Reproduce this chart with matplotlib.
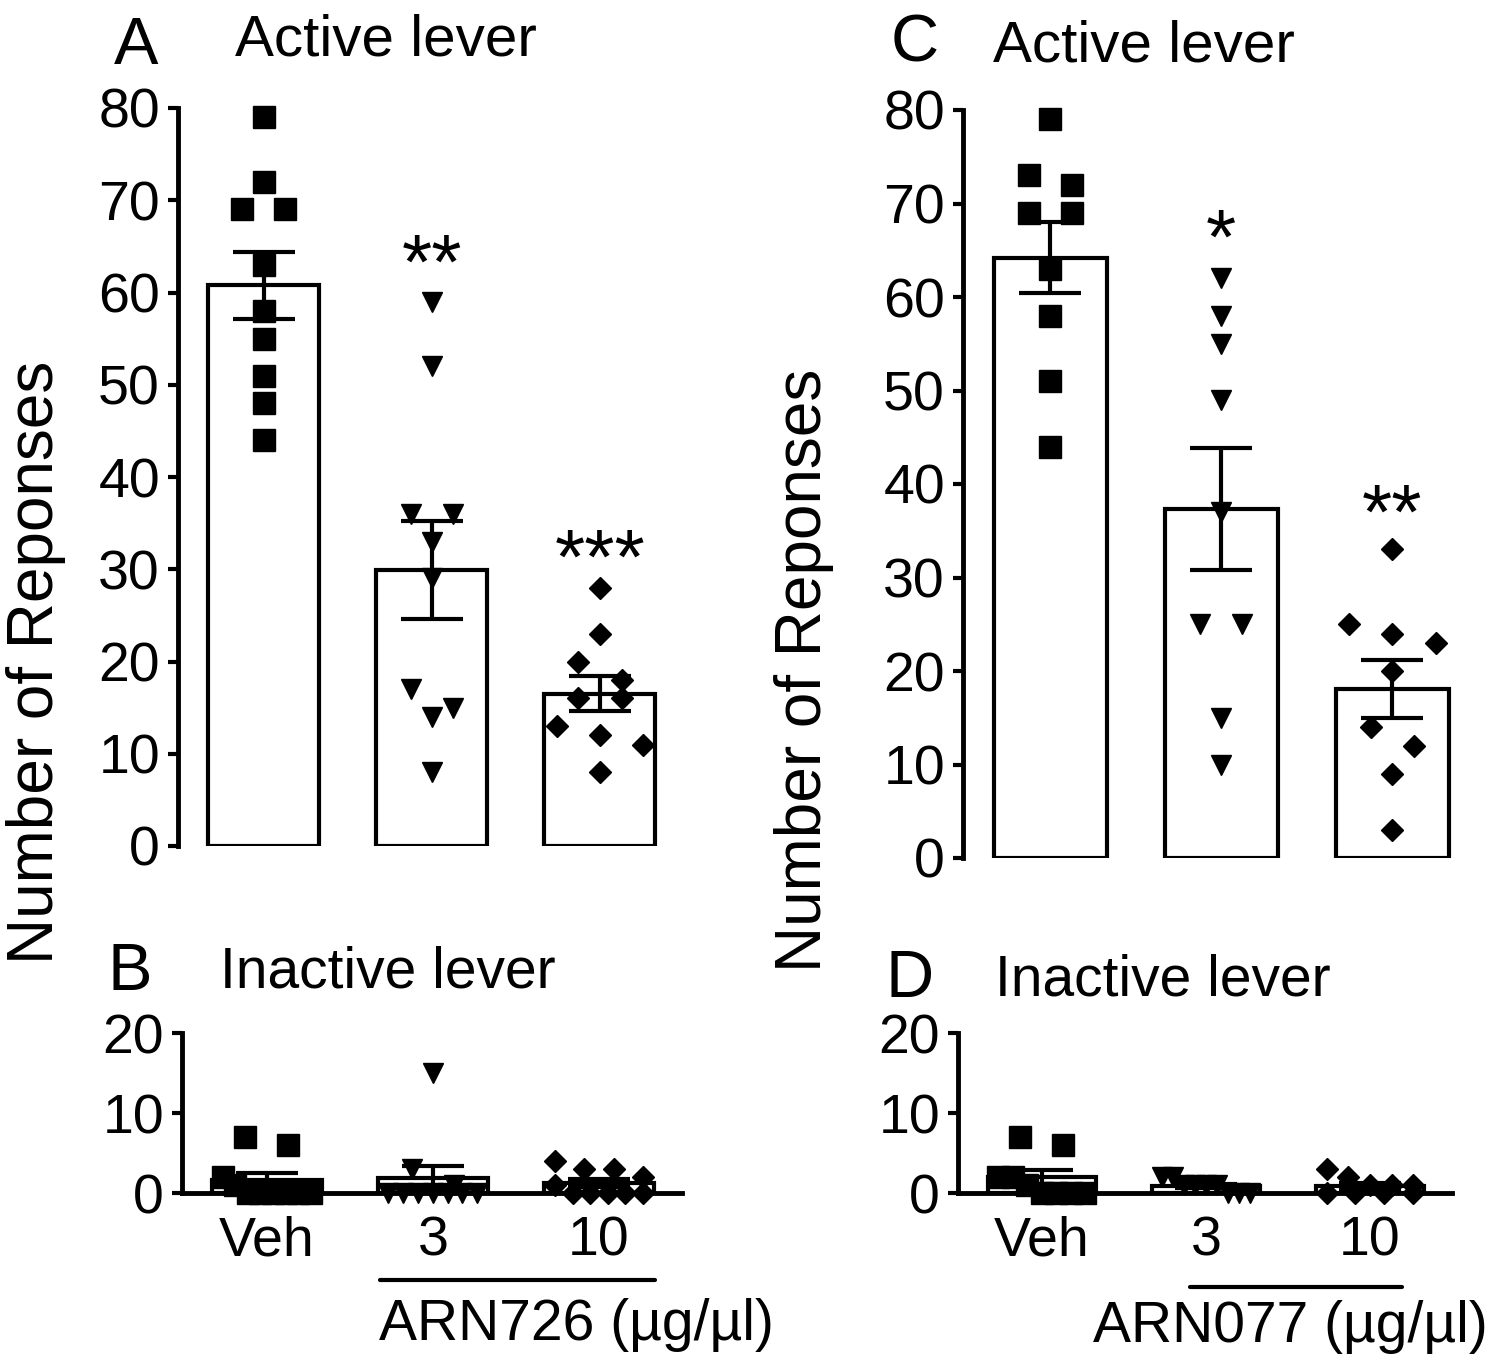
import numpy as np
import matplotlib
matplotlib.use("Agg")
import matplotlib.pyplot as plt
from matplotlib.lines import Line2D

plt.rcParams['font.family'] = ['Liberation Sans', 'DejaVu Sans']

# groups and individual responses
groups = ['Veh', '3', '10']
markers = ['s', 'v', 'D']
marker_sizes = [15.5, 15, 11]

# ARN726 - active / inactive lever
arn726_active = [
    [79, 72, 69, 69, 63, 58, 55, 51, 48, 44],
    [59, 52, 36, 36, 33, 29, 17, 15, 14, 8],
    [28, 23, 20, 18, 16, 16, 13, 12, 11, 8],
]
arn726_inactive = [
    [7, 6, 2, 1, 0, 0, 0, 0, 0, 0],
    [15, 3, 1, 0, 0, 0, 0, 0, 0, 0],
    [4, 3, 3, 2, 1, 0, 0, 0, 0, 0],
]
arn726_stars = ['', '**', '***']

# ARN077 - active / inactive lever
arn077_active = [
    [79, 73, 72, 69, 69, 63, 58, 51, 44],
    [62, 58, 55, 49, 37, 25, 25, 15, 10],
    [33, 25, 24, 23, 20, 14, 12, 9, 3],
]
arn077_inactive = [
    [7, 6, 2, 2, 1, 0, 0, 0, 0],
    [2, 2, 1, 1, 1, 1, 0, 0, 0],
    [3, 2, 1, 1, 1, 0, 0, 0, 0],
]
arn077_stars = ['', '*', '**']

W, H = 1500, 1369
fig = plt.figure(figsize=(W / 100, H / 100), dpi=100)


def fbox(left, right, y0, y1):
    """axes rectangle from pixel coords (y0 = bottom pixel, y1 = top pixel)"""
    return [left / W, 1 - y0 / H, (right - left) / W, (y0 - y1) / H]


def scatter_rows(values, y_ppu, x_ppu, size_px, bar_px):
    """Prism-like column scatter: close values go in a centred row"""
    values = np.asarray(values, dtype=float)
    order = np.argsort(-values, kind='stable')
    rows, row = [], [order[0]]
    for i in order[1:]:
        if (values[row[0]] - values[i]) * y_ppu < size_px:
            row.append(i)
        else:
            rows.append(row)
            row = [i]
    rows.append(row)
    offs = np.zeros(len(values))
    for row in rows:
        k = len(row)
        if k == 1:
            continue
        step = min(2 * size_px, (bar_px - size_px) / (k - 1))
        for j, i in enumerate(row):
            offs[i] = (j - (k - 1) / 2) * step / x_ppu
    return offs


def panel(ax, data, ymax, ticks, ppx, ppy, bottom_axis, stars=None,
          star_y=None, barw=0.66):
    for i, vals in enumerate(data):
        vals = np.asarray(vals, dtype=float)
        mean = vals.mean()
        sem = vals.std(ddof=1) / np.sqrt(len(vals))
        ax.bar(i, mean, width=barw, facecolor='white', edgecolor='black',
               linewidth=3, zorder=1)
        size_px = marker_sizes[i] * 100 / 72 * (1.41 if markers[i] == 'D' else 1.0)
        offs = scatter_rows(vals, ppy, ppx, size_px, barw * ppx)
        ax.plot(i + offs, vals, linestyle='none', marker=markers[i],
                markersize=marker_sizes[i], color='black', clip_on=False,
                zorder=2)
        ax.errorbar(i, mean, yerr=sem, fmt='none', ecolor='black',
                    elinewidth=3, capsize=22, capthick=3, zorder=3,
                    clip_on=False)
        if stars and stars[i]:
            ax.text(i, star_y[i], stars[i], ha='center', va='baseline',
                    fontsize=56)
    ax.set_xlim(-0.51, 2.5)
    ax.set_ylim(0, ymax)
    ax.set_yticks(ticks)
    ax.tick_params(axis='y', labelsize=40, length=7, width=3, pad=6)
    for s in ['top', 'right']:
        ax.spines[s].set_visible(False)
    ax.spines['left'].set_linewidth(3.5)
    if bottom_axis:
        ax.spines['bottom'].set_linewidth(3.5)
        ax.set_xticks(range(len(groups)))
        ax.set_xticklabels(groups)
        ax.tick_params(axis='x', labelsize=40, length=0, pad=16)
    else:
        ax.spines['bottom'].set_visible(False)
        ax.set_xticks([])


# panel A
ax_a = fig.add_axes(fbox(178, 684, 846, 108))
panel(ax_a, arn726_active, 80, range(0, 81, 10), 168, 738 / 80, False,
      arn726_stars, [0, 60.4, 28.4])
# panel B
ax_b = fig.add_axes(fbox(182, 682, 1193, 1033))
panel(ax_b, arn726_inactive, 20, [0, 10, 20], 166, 8, True)
# panel C
ax_c = fig.add_axes(fbox(963, 1478, 858, 110))
panel(ax_c, arn077_active, 80, range(0, 81, 10), 170.5, 748 / 80, False,
      arn077_stars, [0, 63.6, 34.2])
# panel D
ax_d = fig.add_axes(fbox(958, 1452, 1193, 1033))
panel(ax_d, arn077_inactive, 20, [0, 10, 20], 164.5, 8, True)


def ftext(x, y, s, size, ha='left', **kw):
    fig.text(x / W, 1 - y / H, s, fontsize=size, ha=ha, va='baseline', **kw)


# panel letters and titles
ftext(136, 64, 'A', 48, ha='center')
ftext(235, 56, 'Active lever', 42)
ftext(130, 990, 'B', 48, ha='center')
ftext(220, 988, 'Inactive lever', 41)
ftext(915, 62, 'C', 48, ha='center')
ftext(993, 61, 'Active lever', 42)
ftext(910, 997, 'D', 48, ha='center')
ftext(995, 995, 'Inactive lever', 41)

# y labels
fig.text(36 / W, 1 - 662 / H, 'Number of Reponses', rotation=90,
         fontsize=46, ha='center', va='center')
fig.text(804 / W, 1 - 670 / H, 'Number of Reponses', rotation=90,
         fontsize=46, ha='center', va='center')

# dose underline + drug label
fig.add_artist(Line2D([380 / W, 655 / W], [1 - 1280 / H] * 2, color='black',
                      linewidth=3, solid_capstyle='round'))
fig.add_artist(Line2D([1190 / W, 1402 / W], [1 - 1287 / H] * 2, color='black',
                      linewidth=3, solid_capstyle='round'))
ftext(576, 1340, 'ARN726 (µg/µl)', 41, ha='center')
ftext(1290, 1342, 'ARN077 (µg/µl)', 41, ha='center')

fig.savefig('out.png', dpi=100)
